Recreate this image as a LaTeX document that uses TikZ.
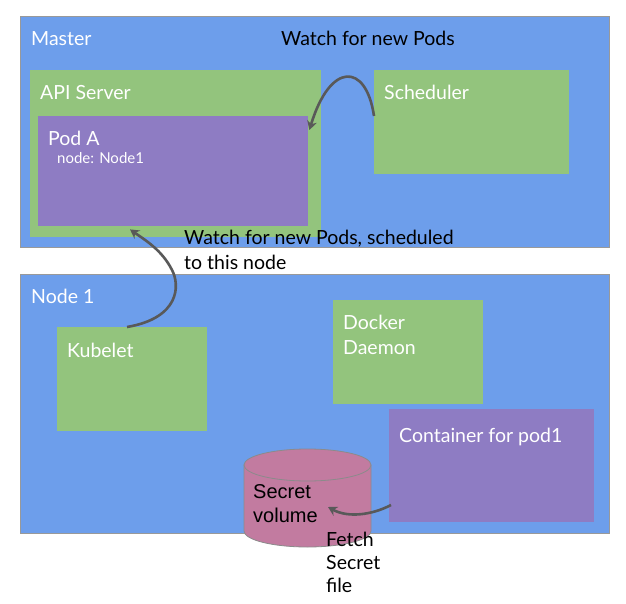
\documentclass[tikz,border=0pt]{standalone}
\usepackage{fontspec}
\setmainfont{Lato}
\newfontfamily\arialfont{Liberation Sans}
\usetikzlibrary{arrows.meta,calc,shapes.geometric}
\definecolor{kblue}{HTML}{6D9EEB}
\definecolor{kgreen}{HTML}{93C47D}
\definecolor{kpurple}{HTML}{8E7CC3}
\definecolor{kpink}{HTML}{C27BA0}
\definecolor{kgray}{HTML}{999999}
\definecolor{karrow}{HTML}{595959}
\tikzset{
  area/.style={draw=kgray,line width=0.8pt,fill=kblue,anchor=north west,inner sep=0pt},
  gbox/.style={fill=kgreen,anchor=north west,inner sep=0pt},
  pbox/.style={fill=kpurple,anchor=north west,inner sep=0pt},
  wlabel/.style={text=white,anchor=base west,inner sep=0pt,font=\fontsize{19.5}{25}\selectfont},
  blabel/.style={text=black,anchor=base west,inner sep=0pt,font=\fontsize{19.5}{25}\selectfont},
  flow/.style={draw=karrow,line width=2.6pt,-{Stealth[length=9pt,width=10pt]}},
}
\begin{document}
\begin{tikzpicture}[x=1pt,y=-1pt]
\useasboundingbox (0,0) rectangle (626,604);
% Master
\node[area,minimum width=589pt,minimum height=231pt] (master) at (20,16) {};
\node[wlabel] (masterl) at (31,46) {Master};
\node[blabel] (watch1) at (281,46) {Watch for new Pods};
\node[gbox,minimum width=291pt,minimum height=167pt] (api) at (30,70) {};
\node[wlabel] (apil) at (40,100) {API Server};
\node[pbox,minimum width=270pt,minimum height=110pt] (poda) at (38,116) {};
\node[wlabel] (podal) at (48,146) {Pod A};
\node[wlabel,font=\fontsize{15}{18}\selectfont] (podan) at (57,164) {node: Node1};
\node[gbox,minimum width=195pt,minimum height=104pt] (sched) at (374,70) {};
\node[wlabel] (schedl) at (384,100) {Scheduler};
% Node 1
\node[area,minimum width=589pt,minimum height=259pt] (node1) at (20,274) {};
\node[wlabel] (node1l) at (31,303) {Node 1};
\node[gbox,minimum width=150pt,minimum height=104pt] (kubelet) at (57,327) {};
\node[wlabel] (kubeletl) at (67,357) {Kubelet};
\node[gbox,minimum width=150pt,minimum height=104pt] (docker) at (333,300) {};
\node[wlabel,align=left,anchor=north west] (dockerl) at (343,315) {Docker\\Daemon};
\node[pbox,minimum width=205pt,minimum height=113pt] (cont) at (389,409) {};
\node[wlabel] (contl) at (399,442) {Container for pod1};
% text over boundary
\node[blabel,align=left,anchor=north west] (watch2) at (184,230) {Watch for new Pods, scheduled\\to this node};
% cylinder
\path[draw=karrow!70,line width=0.8pt,fill=kpink]
  (244,465) -- (244,531) arc[start angle=180,end angle=360,x radius=63.5pt,y radius=16pt]
  -- (371,465) -- cycle;
\draw[karrow!70,line width=0.8pt,fill=kpink] (307.5,465) ellipse[x radius=63.5pt,y radius=16pt];
\node[blabel,align=left,anchor=north west,font=\arialfont\fontsize{20}{24}\selectfont] (secret) at (253,484) {Secret\\volume};
\node[blabel,align=left,anchor=north west,font=\fontsize{19.5}{23}\selectfont] (fetch) at (326,532) {Fetch\\Secret\\file};
% arrows
\draw[flow] ($(sched.north west)+(0,46)$) .. controls (366,62) and (330,62) .. ($(poda.north east)+(1,14)$);
\draw[flow] ($(kubelet.north west)+(70,0)$) .. controls (180,318) and (180,285) .. (172,270) .. controls (162,250) and (145,240) .. ($(poda.south west)+(92,3)$);
\draw[flow] ($(cont.north west)+(2,96)$) .. controls (372,515) and (348,518) .. (328,507);
\end{tikzpicture}
\end{document}
